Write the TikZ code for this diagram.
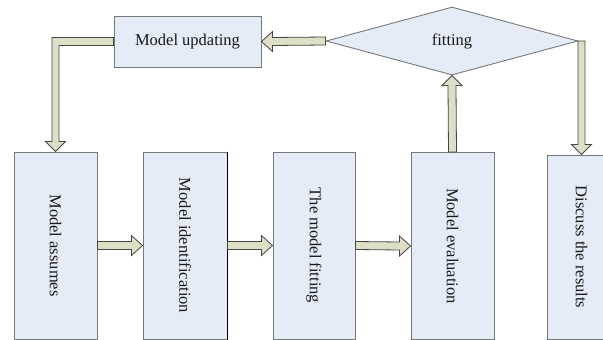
\documentclass[tikz,border=0pt]{standalone}
\usepackage{fontspec}
\setmainfont{Liberation Serif}
\usepackage{graphicx}
\usetikzlibrary{shapes.geometric,calc}

\definecolor{boxfill}{RGB}{230,236,247}
\definecolor{boxline}{RGB}{120,120,120}
\definecolor{arrfill}{RGB}{221,224,199}
\definecolor{arrline}{RGB}{70,70,70}
\definecolor{txt}{RGB}{25,25,25}

\tikzset{
  stagebox/.style={draw=boxline, fill=boxfill, line width=1pt, rectangle,
    minimum width=83pt, minimum height=187pt, inner sep=0pt,
    font=\fontsize{16.5}{18}\selectfont, text=txt},
  topbox/.style={draw=boxline, fill=boxfill, line width=1pt, rectangle,
    minimum width=147pt, minimum height=51pt, inner sep=0pt,
    font=\fontsize{16.5}{18}\selectfont, text=txt},
  decision/.style={draw=boxline, fill=boxfill, line width=0.9pt, diamond,
    minimum width=252pt, minimum height=68pt, inner sep=0pt, aspect=3.7,
    font=\fontsize{16.5}{18}\selectfont, text=txt},
  blockarrow/.style={draw=arrline, fill=arrfill, line width=0.8pt, line join=miter}
}

% straight block arrow pointing right, from #1 to #2
\newcommand{\blockright}[2]{%
  \draw[blockarrow] ($(#1)+(0,-4)$) -- ($(#2)+(-11,-4)$) -- ($(#2)+(-11,-10)$)
    -- (#2) -- ($(#2)+(-11,10)$) -- ($(#2)+(-11,4)$) -- ($(#1)+(0,4)$) -- cycle;}
% straight block arrow pointing left, from #1 to #2
\newcommand{\blockleft}[2]{%
  \draw[blockarrow] ($(#1)+(0,-4)$) -- ($(#2)+(11,-4)$) -- ($(#2)+(11,-10)$)
    -- (#2) -- ($(#2)+(11,10)$) -- ($(#2)+(11,4)$) -- ($(#1)+(0,4)$) -- cycle;}
% straight block arrow pointing up (y grows downward here), from #1 to #2
\newcommand{\blockup}[2]{%
  \draw[blockarrow] ($(#1)+(-4,0)$) -- ($(#2)+(-4,10)$) -- ($(#2)+(-10,10)$)
    -- (#2) -- ($(#2)+(10,10)$) -- ($(#2)+(4,10)$) -- ($(#1)+(4,0)$) -- cycle;}

\begin{document}
\begin{tikzpicture}[x=1pt, y=-1pt]
\useasboundingbox (0,0) rectangle (603,340);
\fill[white] (0,0) rectangle (603,340);

% top row
\node[topbox] (upd) at (187.5,41.5) {Model updating};
\node[decision] (fit) at (452,41) {fitting};

% stage boxes
\node[stagebox] (b1) at (55.5,245.5) {\rotatebox{-90}{Model assumes}};
\node[stagebox, minimum width=84pt] (b2) at (185,245.5) {\rotatebox{-90}{Model identification}};
\draw[black, line width=1pt] (b2.north east) -- (b2.south east);
\node[stagebox, minimum width=82pt] (b3) at (314,245.5) {\rotatebox{-90}{The model fitting}};
\node[stagebox] (b4) at (452.5,246) {\rotatebox{-90}{Model evaluation}};
\begin{scope}
  \clip (0,0) rectangle (603,340);
  \node[stagebox, minimum width=69pt, minimum height=184pt] (b5) at (581.5,247) {\rotatebox{-90}{Discuss the results}};
\end{scope}

% flow between stages
\blockright{b1.east}{b2.west}
\blockright{b2.east}{b3.west}
\blockright{b3.east}{b4.west}

% evaluation goes to the fitting decision
\blockup{b4.north}{fit.south}

% decision back to updating
\blockleft{fit.west}{upd.east}

% updating loops back down to the assumptions
\draw[blockarrow]
  ($(upd.west)+(0,-4)$) -- ($(upd.west -| b1.north)+(-3.5,-4)$)
  -- ($(b1.north)+(-3.5,-10)$) -- ($(b1.north)+(-10,-10)$) -- (b1.north)
  -- ($(b1.north)+(10,-10)$) -- ($(b1.north)+(3.5,-10)$)
  -- ($(upd.west -| b1.north)+(3.5,4)$) -- ($(upd.west)+(0,4)$) -- cycle;

% decision down to the results
\draw[blockarrow]
  ($(fit.east -| b5.north)+(-3.5,0)$) -- ($(fit.east -| b5.north)+(3.5,0)$)
  -- ($(b5.north)+(3.5,-10)$) -- ($(b5.north)+(10,-10)$) -- (b5.north)
  -- ($(b5.north)+(-10,-10)$) -- ($(b5.north)+(-3.5,-10)$) -- cycle;
\end{tikzpicture}
\end{document}
